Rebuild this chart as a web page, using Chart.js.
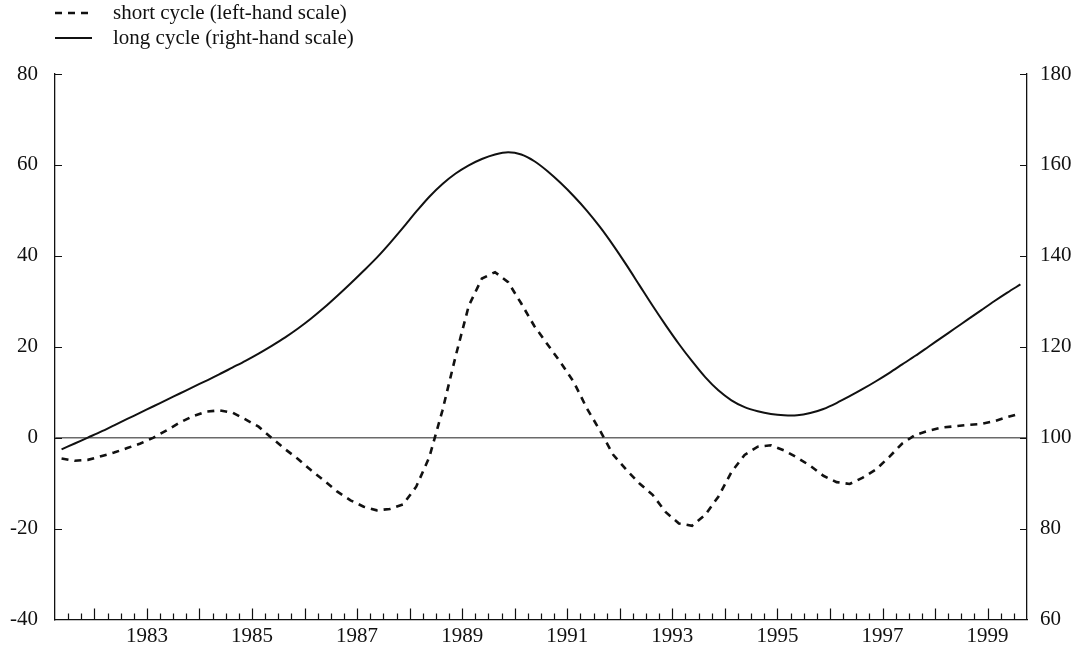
<!DOCTYPE html>
<html>
<head>
<meta charset="utf-8">
<script src="https://cdn.jsdelivr.net/npm/chart.js@4.4.1/dist/chart.umd.min.js"></script>
<style>
  html, body { margin: 0; padding: 0; background: #fff; }
  #wrap { width: 1079px; height: 649px; position: relative; }
</style>
</head>
<body>
<div id="wrap"><canvas id="cycles"></canvas></div>
<script>
// quarterly observations, 1981Q2 - 1999Q3
const quarters = [
  '1981Q2','1981Q3','1981Q4',
  '1982Q1','1982Q2','1982Q3','1982Q4','1983Q1','1983Q2','1983Q3','1983Q4',
  '1984Q1','1984Q2','1984Q3','1984Q4','1985Q1','1985Q2','1985Q3','1985Q4',
  '1986Q1','1986Q2','1986Q3','1986Q4','1987Q1','1987Q2','1987Q3','1987Q4',
  '1988Q1','1988Q2','1988Q3','1988Q4','1989Q1','1989Q2','1989Q3','1989Q4',
  '1990Q1','1990Q2','1990Q3','1990Q4','1991Q1','1991Q2','1991Q3','1991Q4',
  '1992Q1','1992Q2','1992Q3','1992Q4','1993Q1','1993Q2','1993Q3','1993Q4',
  '1994Q1','1994Q2','1994Q3','1994Q4','1995Q1','1995Q2','1995Q3','1995Q4',
  '1996Q1','1996Q2','1996Q3','1996Q4','1997Q1','1997Q2','1997Q3','1997Q4',
  '1998Q1','1998Q2','1998Q3','1998Q4','1999Q1','1999Q2','1999Q3'
];

// short cycle, left-hand scale
const shortCycle = [
  -4.6, -5.1, -4.9,
  -4.1, -3.3, -2.3, -1.3,   0.0, 1.6, 3.3, 4.7,
  5.7, 6.0, 5.5, 4.0,       2.4, -0.1, -2.5, -4.7,
  -7.2, -9.5, -11.9, -13.8, -15.2, -16.0, -15.7, -14.7,
  -10.8, -4.3, 6.0, 17.9,   29.0, 35.0, 36.4, 34.2,
  29.5, 24.5, 20.5, 16.5,   12.2, 6.4, 1.5, -3.8,
  -7.1, -10.1, -12.6, -16.4, -18.9, -19.4, -17.0, -13.0,
  -7.6, -3.8, -2.0, -1.7,   -2.8, -4.4, -6.2, -8.4,
  -9.8, -10.2, -8.8, -7.0,  -4.3, -1.3, 0.6, 1.5,
  2.2, 2.5, 2.8, 3.0,       3.6, 4.5, 5.3
];

// long cycle, right-hand scale
const longCycle = [
  97.4, 98.7, 100.0,
  101.3, 102.7, 104.1, 105.5, 106.9, 108.3, 109.7, 111.1,
  112.5, 113.9, 115.4, 116.9, 118.5, 120.2, 122.0, 124.0,
  126.2, 128.6, 131.2, 133.9, 136.7, 139.6, 142.8, 146.2,
  149.7, 153.0, 155.8, 158.1, 159.9, 161.3, 162.3, 162.8,
  162.3, 160.8, 158.6, 156.0, 153.1, 149.9, 146.3, 142.3,
  138.0, 133.5, 129.0, 124.7, 120.6, 116.8, 113.3, 110.4,
  108.2, 106.7, 105.8, 105.2, 104.9, 104.9, 105.4, 106.3,
  107.6, 109.1, 110.7, 112.4, 114.2, 116.1, 118.0, 120.0,
  122.0, 124.0, 126.0, 128.0, 130.0, 131.9, 133.7
];

const yearLabels = [1983, 1985, 1987, 1989, 1991, 1993, 1995, 1997, 1999];
const seriesLabels = ['short cycle (left-hand scale)', 'long cycle (right-hand scale)'];

const FONT = 'Liberation Serif';
const INK = '#111';

// start of a quarter as a decimal year, and its midpoint
function quarterStart(q) {
  return parseInt(q.slice(0, 4)) + (parseInt(q.slice(5)) - 1) / 4;
}
function quarterMid(q) { return quarterStart(q) + 0.125; }

const xMin = quarterStart(quarters[0]);
const xMax = quarterStart(quarters[quarters.length - 1]) + 0.25;

// tick marks pointing into the plot on all three axes
const innerTicks = {
  id: 'innerTicks',
  afterDatasetsDraw(chart) {
    const { ctx, chartArea: a, scales } = chart;
    ctx.save();
    ctx.strokeStyle = INK;
    ctx.lineWidth = 1.2;
    ctx.beginPath();
    quarters.forEach((q, i) => {
      if (i === 0) return;
      const px = Math.round(scales.x.getPixelForValue(quarterStart(q))) + 0.5;
      const len = q.endsWith('Q1') ? 11 : 6;
      ctx.moveTo(px, a.bottom);
      ctx.lineTo(px, a.bottom - len);
    });
    scales.y.ticks.forEach(t => {
      const py = Math.round(scales.y.getPixelForValue(t.value)) + 0.5;
      ctx.moveTo(a.left, py);
      ctx.lineTo(a.left + 7, py);
    });
    scales.y1.ticks.forEach(t => {
      const py = Math.round(scales.y1.getPixelForValue(t.value)) + 0.5;
      ctx.moveTo(a.right, py);
      ctx.lineTo(a.right - 7, py);
    });
    ctx.stroke();
    ctx.restore();
  }
};

// two-row legend above the plot
const rowLegend = {
  id: 'rowLegend',
  afterDraw(chart) {
    const ctx = chart.ctx;
    ctx.save();
    ctx.font = '21px "' + FONT + '"';
    ctx.fillStyle = INK;
    ctx.textBaseline = 'middle';
    chart.data.datasets.forEach((ds, i) => {
      const y = 13 + i * 25;
      ctx.strokeStyle = ds.borderColor;
      ctx.lineWidth = ds.borderWidth;
      ctx.setLineDash(ds.borderDash || []);
      ctx.beginPath();
      ctx.moveTo(55, y);
      ctx.lineTo(92, y);
      ctx.stroke();
      ctx.setLineDash([]);
      ctx.fillText(ds.label, 113, y);
    });
    ctx.restore();
  }
};

const data = {
  datasets: [{
    label: seriesLabels[0],
    data: quarters.map((q, i) => ({ x: quarterMid(q), y: shortCycle[i] })),
    yAxisID: 'y',
    borderColor: INK,
    borderWidth: 2.6,
    borderDash: [7, 6],
    pointRadius: 0,
    tension: 0
  }, {
    label: seriesLabels[1],
    data: quarters.map((q, i) => ({ x: quarterMid(q), y: longCycle[i] })),
    yAxisID: 'y1',
    borderColor: INK,
    borderWidth: 2,
    pointRadius: 0,
    tension: 0.3
  }]
};

const tickFont = { family: FONT, size: 21 };

const configuration = {
  type: 'line',
  data: data,
  options: {
    responsive: true,
    maintainAspectRatio: false,
    animation: false,
    layout: { padding: { top: 74, left: 0, right: 0, bottom: 0 } },
    plugins: {
      legend: { display: false },
      tooltip: { enabled: false }
    },
    scales: {
      x: {
        type: 'linear',
        min: xMin,
        max: xMax,
        afterBuildTicks: s => { s.ticks = yearLabels.map(v => ({ value: v })); },
        afterFit: s => { s.height = 25; },
        grid: { display: false, drawTicks: false },
        border: { display: true, color: INK, width: 1.3 },
        ticks: {
          font: tickFont, color: INK, padding: 4,
          autoSkip: false, maxRotation: 0,
          callback: v => String(v)
        }
      },
      y: {
        position: 'left',
        min: -40, max: 80,
        afterFit: s => { s.width = 55; },
        grid: {
          drawTicks: false,
          lineWidth: 1.5,
          color: c => (c.tick && c.tick.value === 0 ? '#6a6a6a' : 'rgba(0,0,0,0)')
        },
        border: { display: true, color: INK, width: 1.3 },
        ticks: { stepSize: 20, font: tickFont, color: INK, padding: 17 }
      },
      y1: {
        position: 'right',
        min: 60, max: 180,
        afterFit: s => { s.width = 52; },
        grid: { display: false, drawTicks: false },
        border: { display: true, color: INK, width: 1.3 },
        ticks: { stepSize: 20, font: tickFont, color: INK, padding: 13 }
      }
    }
  },
  plugins: [innerTicks, rowLegend]
};

const chart = new Chart(document.getElementById('cycles'), configuration);
</script>
</body>
</html>
